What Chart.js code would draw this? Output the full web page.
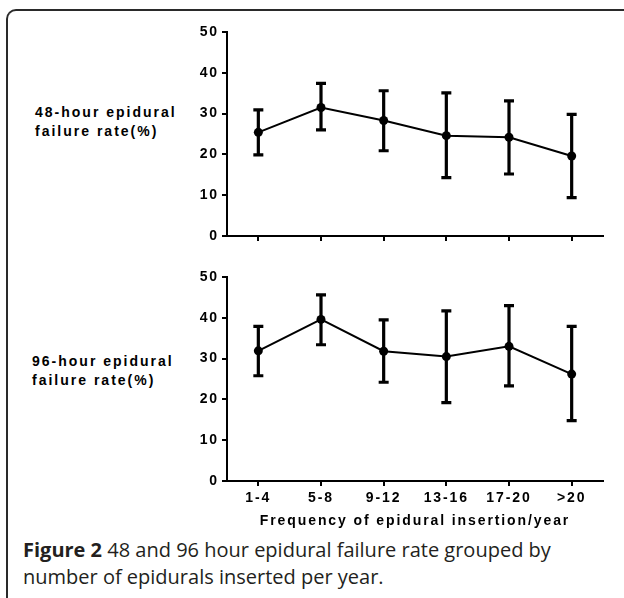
<!DOCTYPE html>
<html>
<head>
<meta charset="utf-8">
<script src="https://cdn.jsdelivr.net/npm/chart.js@4"></script>
<style>
  html, body { margin: 0; padding: 0; background: #fff; }
  body { width: 624px; height: 598px; position: relative; overflow: hidden; }
  .frame {
    position: absolute; left: 6px; top: 9px; width: 700px; height: 700px;
    border-top: 2px solid #2a2a2a; border-left: 2px solid #2a2a2a;
    border-top-left-radius: 10px;
  }
  .side {
    position: absolute; font-family: "Liberation Sans", Arial, sans-serif;
    font-weight: bold; font-size: 14px; line-height: 19px; letter-spacing: 2px;
    color: #000; white-space: nowrap;
  }
  .box { position: absolute; left: 180px; width: 432px; }
  .caption {
    position: absolute; left: 23px; top: 536px; font-family: "Open Sans", sans-serif;
    font-size: 20px; line-height: 27px; color: #231f20; white-space: nowrap;
  }
  .caption b { font-weight: bold; }
</style>
</head>
<body>
<div class="frame"></div>
<div class="side" style="left:35px; top:103px;">48-hour epidural<br>failure rate(%)</div>
<div class="side" style="left:32px; top:352px;">96-hour epidural<br>failure rate(%)</div>
<div class="box" style="top:20px; height:232px;"><canvas id="top48"></canvas></div>
<div class="box" style="top:265px; height:270px;"><canvas id="bottom96"></canvas></div>
<div class="caption"><b>Figure 2</b> 48 and 96 hour epidural failure rate grouped by<br>number of epidurals inserted per year.</div>
<script>
const categories = ['1-4', '5-8', '9-12', '13-16', '17-20', '>20'];
const mean48 = [25.4, 31.5, 28.3, 24.6, 24.2, 19.6];
const low48  = [19.9, 26.0, 20.9, 14.3, 15.2, 9.4];
const high48 = [30.9, 37.4, 35.6, 35.1, 33.1, 29.8];
const mean96 = [31.9, 39.6, 31.8, 30.5, 33.0, 26.2];
const low96  = [25.8, 33.4, 24.2, 19.2, 23.3, 14.8];
const high96 = [37.9, 45.6, 39.5, 41.7, 43.0, 37.9];
const yTicks = [0, 10, 20, 30, 40, 50];
const xTitle = 'Frequency of epidural insertion/year';

const tickFont = { family: '"Liberation Sans", Arial, sans-serif', size: 14, weight: 'bold' };

// wide letter spacing like the original figure
const spacing = {
  id: 'spacing',
  beforeLayout(chart) { chart.ctx.letterSpacing = '1.9px'; },
  beforeDraw(chart) { chart.ctx.letterSpacing = '1.9px'; }
};

// error bars from the low/high arrays
const errorBars = {
  id: 'errorBars',
  afterDatasetsDraw(chart, args, opts) {
    const ctx = chart.ctx, x = chart.scales.x, y = chart.scales.y;
    ctx.save();
    ctx.strokeStyle = '#000';
    ctx.lineWidth = 3.2;
    ctx.lineCap = 'butt';
    opts.low.forEach((lo, i) => {
      const px = x.getPixelForValue(i);
      const yl = y.getPixelForValue(lo), yh = y.getPixelForValue(opts.high[i]);
      ctx.beginPath();
      ctx.moveTo(px, yl); ctx.lineTo(px, yh);
      ctx.moveTo(px - 5, yl); ctx.lineTo(px + 5, yl);
      ctx.moveTo(px - 5, yh); ctx.lineTo(px + 5, yh);
      ctx.stroke();
    });
    ctx.restore();
  }
};

function makeChart(id, values, low, high, showLabels) {
  return new Chart(document.getElementById(id), {
    type: 'line',
    data: {
      labels: categories,
      datasets: [{
        data: values,
        borderColor: '#000',
        borderWidth: 2,
        backgroundColor: '#000',
        pointRadius: 4.5,
        pointBackgroundColor: '#000',
        pointBorderWidth: 0,
        tension: 0,
        clip: false
      }]
    },
    options: {
      responsive: true,
      maintainAspectRatio: false,
      animation: false,
      layout: { padding: { top: 12, right: 9, left: 0, bottom: 0 } },
      plugins: {
        legend: { display: false },
        tooltip: { enabled: false },
        errorBars: { low: low, high: high }
      },
      scales: {
        x: {
          offset: true,
          grid: { offset: false, drawOnChartArea: false, drawTicks: true, tickLength: 5, color: '#000', lineWidth: 2 },
          border: { display: true, color: '#000', width: 2 },
          ticks: { display: showLabels, color: '#000', font: tickFont, padding: 4, maxRotation: 0 },
          title: { display: showLabels, text: xTitle, color: '#000', font: tickFont, padding: { top: 5, bottom: 5 } },
          afterFit(s) { s.height = showLabels ? 54 : 16; }
        },
        y: {
          min: 0, max: 50,
          afterBuildTicks(s) { s.ticks = yTicks.map(v => ({ value: v })); },
          grid: { drawOnChartArea: false, drawTicks: true, tickLength: 5, color: '#000', lineWidth: 2 },
          border: { display: true, color: '#000', width: 2 },
          ticks: { color: '#000', font: tickFont, padding: 3 },
          afterFit(s) { s.width = 47; }
        }
      }
    },
    plugins: [spacing, errorBars]
  });
}

makeChart('top48', mean48, low48, high48, false);
makeChart('bottom96', mean96, low96, high96, true);
</script>
</body>
</html>
